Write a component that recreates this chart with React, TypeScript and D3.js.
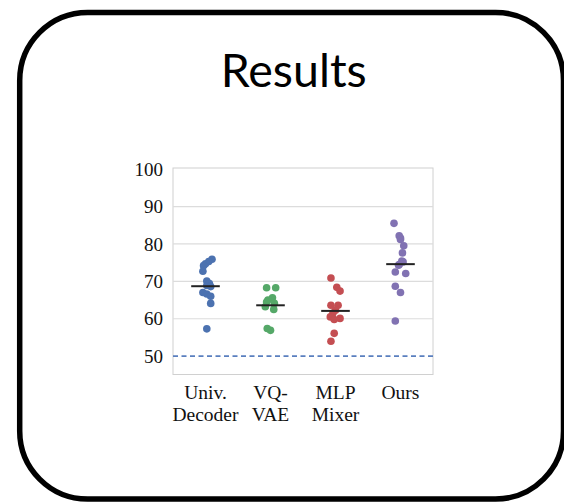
import React from "react";
import * as d3 from "d3";

const categories = ["Univ.\nDecoder", "VQ-\nVAE", "MLP\nMixer", "Ours"];
const colors = ["#4c72b0", "#55a868", "#c44e52", "#8172b2"];
const yTicks = [50, 60, 70, 80, 90, 100];
const chanceLevel = 50;

// values; jitter = horizontal offset in category units
const univValues = [75.9, 75.3, 74.7, 74.2, 72.7, 70.1, 69.4, 68.9, 68.6, 67.0, 66.6, 66.0, 64.1, 57.3];
const univJitter = [0.10, 0.05, 0.0, -0.03, -0.04, 0.02, 0.06, 0.02, 0.08, -0.04, 0.02, 0.08, 0.08, 0.02];
const vqValues = [68.3, 68.3, 65.6, 65.0, 64.5, 64.1, 63.2, 62.5, 57.4, 56.9];
const vqJitter = [-0.06, 0.08, 0.03, -0.04, -0.06, 0.06, -0.08, 0.05, -0.05, 0.0];
const mlpValues = [70.9, 68.4, 67.4, 63.6, 63.6, 62.3, 61.5, 60.5, 60.1, 59.8, 56.1, 54.0];
const mlpJitter = [-0.07, 0.02, 0.07, -0.07, 0.04, 0.0, -0.04, -0.08, 0.07, -0.02, -0.02, -0.07];
const oursValues = [85.5, 82.2, 81.6, 81.2, 79.5, 77.6, 75.4, 75.2, 74.5, 74.3, 72.5, 72.1, 68.7, 67.0, 59.4];
const oursJitter = [-0.10, -0.02, 0.0, 0.0, 0.05, 0.03, 0.02, 0.04, -0.02, -0.03, -0.08, 0.08, -0.08, 0.0, -0.08];
const means = [68.7, 63.6, 62.1, 74.6];

const groupValues = [univValues, vqValues, mlpValues, oursValues];
const groupJitter = [univJitter, vqJitter, mlpJitter, oursJitter];

export default function App() {
  const W = 564, H = 504;
  const left = 173, right = 433, top = 168, bottom = 374.5;
  const x = d3.scaleBand<string>().domain(categories).range([left, right]).padding(0);
  const xi = d3.scaleLinear().domain([-0.5, categories.length - 0.5]).range([left, right]);
  const y = d3.scaleLinear().domain([45.1, 100.3]).range([bottom, top]);
  const bw = x.bandwidth();
  const serif = "'Liberation Serif', 'Times New Roman', serif";

  return (
    <svg width={W} height={H} style={{ position: "absolute", left: 0, top: 0 }} xmlns="http://www.w3.org/2000/svg">
      <rect x={0} y={0} width={W} height={H} fill="#fff" />
      <rect x={19.7} y={12.5} width={543.8} height={486.5} rx={68} ry={68} fill="#fff" stroke="#000" strokeWidth={5.5} />
      <text x={293.7} y={87} textAnchor="middle" fontFamily="Lato, 'Open Sans', sans-serif" fontSize={46} textLength={146} lengthAdjust="spacingAndGlyphs" fill="#000">Results</text>

      {/* plot frame */}
      <rect x={left} y={top} width={right - left} height={bottom - top} fill="#fff" stroke="#d0d0d0" strokeWidth={1} />
      {yTicks.filter(t => t !== chanceLevel && t !== 100).map(t => (
        <line key={t} x1={left} x2={right} y1={y(t)} y2={y(t)} stroke="#dcdcdc" strokeWidth={1.2} />
      ))}
      <line x1={left} x2={right} y1={y(chanceLevel)} y2={y(chanceLevel)} stroke="#5a7fbf" strokeWidth={1.6} strokeDasharray="5,3.5" />
      {yTicks.map(t => (
        <text key={t} x={left - 10} y={y(t)} dy="0.35em" textAnchor="end" fontFamily={serif} fontSize={19} fill="#111">{t}</text>
      ))}

      {groupValues.map((vals, g) =>
        vals.map((v, i) => (
          <circle key={`${g}-${i}`} cx={xi(g + groupJitter[g][i])} cy={y(v)} r={3.8} fill={colors[g]} />
        ))
      )}
      {means.map((m, g) => (
        <line key={`m${g}`} x1={xi(g) - bw * 0.22} x2={xi(g) + bw * 0.22} y1={y(m)} y2={y(m)} stroke="#222" strokeWidth={2} />
      ))}

      {categories.map((c, g) => (
        <text key={c} textAnchor="middle" fontFamily={serif} fontSize={19.5} fill="#111">
          {c.split("\n").map((line, k) => (
            <tspan key={k} x={(x(c) ?? 0) + bw / 2} y={399 + k * 22}>{line}</tspan>
          ))}
        </text>
      ))}
    </svg>
  );
}
